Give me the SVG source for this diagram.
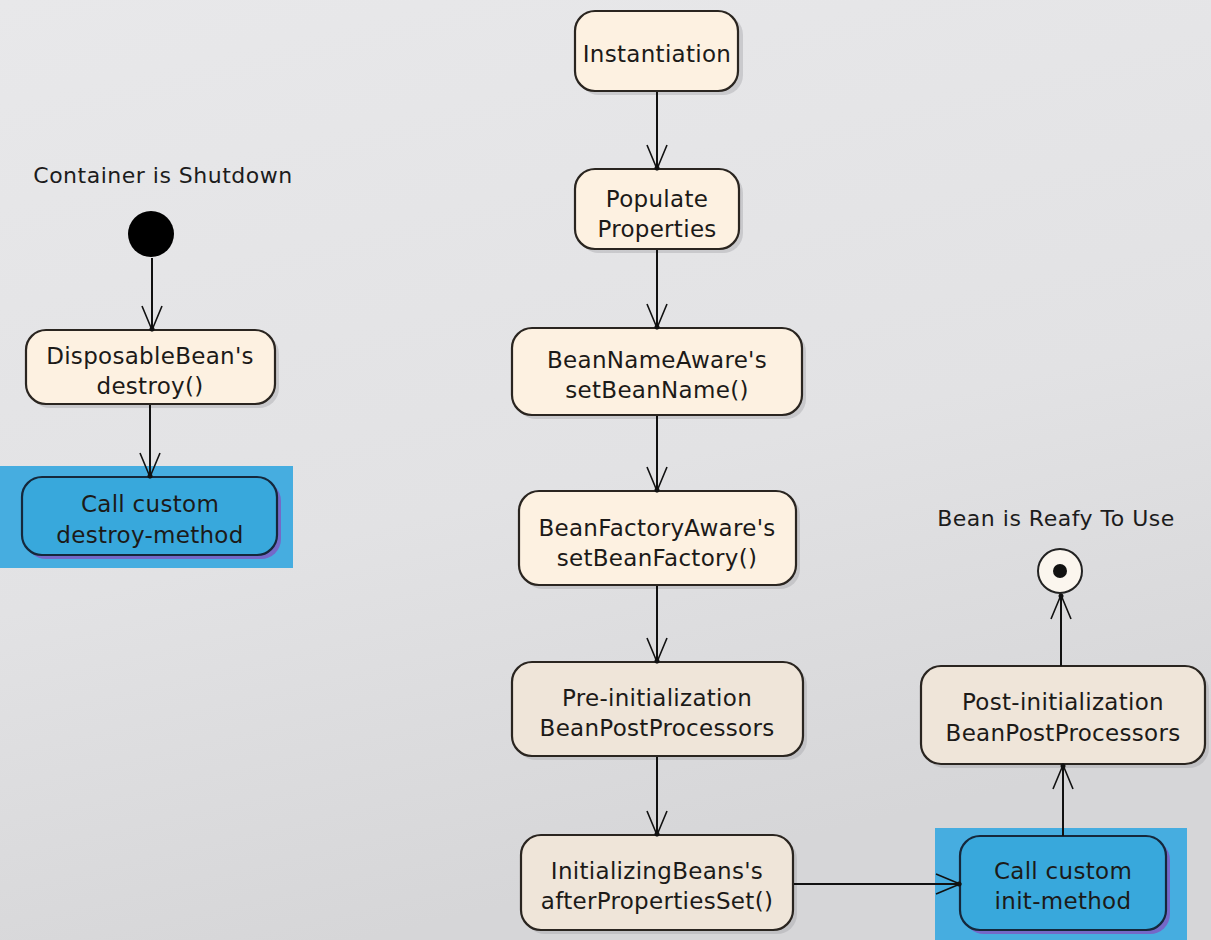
<svg xmlns="http://www.w3.org/2000/svg" width="1211" height="940" viewBox="0 0 1211 940">
<defs>
<linearGradient id="bg" x1="0" y1="0" x2="0.3" y2="1">
<stop offset="0" stop-color="#e8e8ea"/>
<stop offset="0.6" stop-color="#e2e2e4"/>
<stop offset="1" stop-color="#d6d6d8"/>
</linearGradient>
<marker id="arr" viewBox="-26 -12 30 24" refX="0" refY="0" markerWidth="30" markerHeight="24" markerUnits="userSpaceOnUse" orient="auto">
<path d="M-24,-10 L0,0 L-24,10" fill="none" stroke="#111" stroke-width="1.6"/>
<circle cx="-1" cy="0" r="2.5" fill="#111"/>
</marker>
</defs>
<style>
.n{stroke:#2a2520;stroke-width:2.2}
.c{fill:#fdf1e1}
.d{fill:#efe5d9}
.b{fill:#38a8dc;stroke:#15283c;stroke-width:2.2}
.hl{fill:#46ade0}
.sh{fill:#a8a8ac;opacity:0.45}
.bsh{fill:#7468c8}
.t{font-family:"DejaVu Sans",sans-serif;font-size:23px;letter-spacing:0.3px;fill:#1c1a18;text-anchor:middle}
.lbl{font-family:"DejaVu Sans",sans-serif;font-size:22px;letter-spacing:0.5px;fill:#1c1c1c;text-anchor:middle}
.e{stroke:#111;stroke-width:2;fill:none;marker-end:url(#arr)}
</style>
<rect width="1211" height="940" fill="url(#bg)"/>

<g id="instantiation">
<rect class="sh" x="579" y="15" width="164" height="80" rx="20"/>
<rect class="n c" x="575" y="11" width="163" height="80" rx="20"/>
<text class="t" x="657" y="62">Instantiation</text>
</g>

<g id="populate">
<rect class="sh" x="579" y="173" width="164" height="80" rx="20"/>
<rect class="n c" x="575" y="169" width="164" height="80" rx="20"/>
<text class="t" x="657" y="207">Populate</text>
<text class="t" x="657" y="237">Properties</text>
</g>

<g id="beannameaware">
<rect class="sh" x="516" y="332" width="290" height="87" rx="20"/>
<rect class="n c" x="512" y="328" width="290" height="87" rx="20"/>
<text class="t" x="657" y="368">BeanNameAware's</text>
<text class="t" x="657" y="398">setBeanName()</text>
</g>

<g id="beanfactoryaware">
<rect class="sh" x="523" y="495" width="277" height="94" rx="20"/>
<rect class="n c" x="519" y="491" width="277" height="94" rx="20"/>
<text class="t" x="657" y="536">BeanFactoryAware's</text>
<text class="t" x="657" y="566">setBeanFactory()</text>
</g>

<g id="preinit">
<rect class="sh" x="516" y="666" width="291" height="94" rx="20"/>
<rect class="n d" x="512" y="662" width="291" height="94" rx="20"/>
<text class="t" x="657" y="706">Pre-initialization</text>
<text class="t" x="657" y="736">BeanPostProcessors</text>
</g>

<g id="initializingbean">
<rect class="sh" x="525" y="839" width="272" height="95" rx="20"/>
<rect class="n d" x="521" y="835" width="272" height="95" rx="20"/>
<text class="t" x="657" y="879">InitializingBeans's</text>
<text class="t" x="657" y="909">afterPropertiesSet()</text>
</g>

<g id="initmethod">
<rect class="hl" x="935" y="828" width="252" height="112"/>
<rect class="bsh" x="964" y="840" width="206" height="94" rx="20"/>
<rect class="b" x="960" y="836" width="206" height="94" rx="20"/>
<text class="t" x="1063" y="879">Call custom</text>
<text class="t" x="1063" y="909">init-method</text>
</g>

<g id="postinit">
<rect class="sh" x="925" y="670" width="284" height="98" rx="20"/>
<rect class="n d" x="921" y="666" width="284" height="98" rx="20"/>
<text class="t" x="1063" y="710">Post-initialization</text>
<text class="t" x="1063" y="741">BeanPostProcessors</text>
</g>

<g id="final">
<text class="lbl" x="1056" y="526">Bean is Reafy To Use</text>
<circle cx="1060" cy="571" r="22" fill="#fbf6ee" stroke="#222" stroke-width="2"/>
<circle cx="1060" cy="571" r="7" fill="#111"/>
</g>

<g id="start">
<text class="lbl" x="163" y="183">Container is Shutdown</text>
<circle cx="151" cy="234" r="23" fill="#000"/>
</g>

<g id="disposable">
<rect class="sh" x="30" y="334" width="249" height="74" rx="20"/>
<rect class="n c" x="26" y="330" width="249" height="74" rx="20"/>
<text class="t" x="150" y="364">DisposableBean's</text>
<text class="t" x="150" y="394">destroy()</text>
</g>

<g id="destroymethod">
<rect class="hl" x="0" y="466" width="293" height="102"/>
<rect class="bsh" x="26" y="481" width="255" height="78" rx="20"/>
<rect class="b" x="22" y="477" width="255" height="78" rx="20"/>
<text class="t" x="150" y="512">Call custom</text>
<text class="t" x="150" y="543">destroy-method</text>
</g>

<g id="connectors">
<line class="e" x1="657" y1="92" x2="657" y2="169"/>
<line class="e" x1="657" y1="250" x2="657" y2="328"/>
<line class="e" x1="657" y1="416" x2="657" y2="491"/>
<line class="e" x1="657" y1="586" x2="657" y2="662"/>
<line class="e" x1="657" y1="757" x2="657" y2="835"/>
<line class="e" x1="794" y1="884" x2="960" y2="884"/>
<line class="e" x1="1063" y1="836" x2="1063" y2="765"/>
<line class="e" x1="1061" y1="666" x2="1061" y2="595"/>
<line class="e" x1="152" y1="258" x2="152" y2="330"/>
<line class="e" x1="150" y1="405" x2="150" y2="477"/>
</g>
</svg>
